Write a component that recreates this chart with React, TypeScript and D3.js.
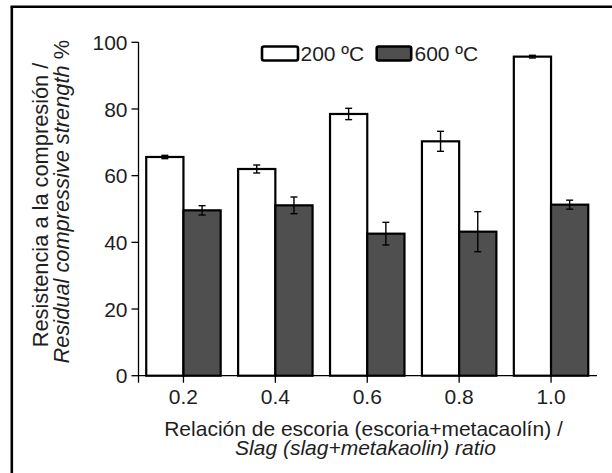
import React from "react";
import * as d3 from "d3";

const categories = ["0.2", "0.4", "0.6", "0.8", "1.0"];
const series = ["200 ºC", "600 ºC"];
const values200 = [65.6, 62.0, 78.5, 70.3, 95.7];
const errors200 = [0.5, 1.2, 1.7, 3.0, 0.4];
const values600 = [49.6, 51.1, 42.6, 43.2, 51.3];
const errors600 = [1.4, 2.5, 3.4, 6.0, 1.35];
const yTicks = [0, 20, 40, 60, 80, 100];

const W = 612;
const H = 473;
const FONT = "'Liberation Sans', Arial, Helvetica, sans-serif";
const FS = 21;
const TXT = "#1e1e1e";
const DARK = "#4f4f4f";

export default function App() {
  const x0 = 138.5;
  const x1 = 597;
  const yBottom = 375.7;
  const yTop = 42.3;

  const x = d3.scaleBand<string>().domain(categories).range([137.5, x1]).paddingInner(0.19).paddingOuter(0.095);
  const xs = d3.scaleBand<string>().domain(series).range([0, x.bandwidth()]);
  const y = d3.scaleLinear().domain([0, 100]).range([yBottom, yTop]);

  const data = categories.map((c, i) => ({
    c,
    bars: [
      { s: series[0], v: values200[i], e: errors200[i], fill: "#ffffff" },
      { s: series[1], v: values600[i], e: errors600[i], fill: DARK },
    ],
  }));

  const tickLen = 7;
  const cap = 3.5;

  return (
    <svg width={W} height={H} style={{ position: "absolute", left: 0, top: 0, background: "#fff" }} fontFamily={FONT}>
      <rect x={0} y={0} width={W} height={H} fill="#fff" />
      {/* frame */}
      <line x1={11.8} y1={6.8} x2={11.8} y2={H} stroke="#000" strokeWidth={2.6} />
      <line x1={10.5} y1={6.8} x2={W} y2={6.8} stroke="#000" strokeWidth={2.6} />

      {/* bars */}
      {data.map((d) => (
        <g key={d.c} transform={`translate(${x(d.c)},0)`}>
          {d.bars.map((b) => {
            const bx = xs(b.s)!;
            const bw = xs.bandwidth();
            const cx = bx + bw / 2;
            return (
              <g key={b.s}>
                <rect x={bx} y={y(b.v)} width={bw} height={yBottom - y(b.v)} fill={b.fill} stroke="#000" strokeWidth={2.2} />
                <line x1={cx} x2={cx} y1={y(b.v + b.e)} y2={y(b.v - b.e)} stroke="#000" strokeWidth={1.4} />
                <line x1={cx - cap} x2={cx + cap} y1={y(b.v + b.e)} y2={y(b.v + b.e)} stroke="#000" strokeWidth={1.4} />
                <line x1={cx - cap} x2={cx + cap} y1={y(b.v - b.e)} y2={y(b.v - b.e)} stroke="#000" strokeWidth={1.4} />
              </g>
            );
          })}
        </g>
      ))}

      {/* y axis */}
      <line x1={x0} x2={x0} y1={y(100)} y2={yBottom + tickLen} stroke="#000" strokeWidth={1.3} />
      {yTicks.map((t) => (
        <g key={t}>
          <line x1={x0 - tickLen} x2={x0} y1={y(t)} y2={y(t)} stroke="#000" strokeWidth={1.3} />
          <text x={x0 - 11} y={y(t)} dy="0.36em" textAnchor="end" fontSize={FS} fill={TXT}>
            {t}
          </text>
        </g>
      ))}

      {/* x axis */}
      <line x1={x0} x2={x1} y1={yBottom} y2={yBottom} stroke="#000" strokeWidth={1.3} />
      {categories.map((c) => {
        const cx = x(c)! + x.bandwidth() / 2;
        return (
          <g key={c}>
            <line x1={cx} x2={cx} y1={yBottom} y2={yBottom + tickLen} stroke="#000" strokeWidth={1.3} />
            <text x={cx} y={404} textAnchor="middle" fontSize={FS} fill={TXT}>
              {c}
            </text>
          </g>
        );
      })}

      {/* x title */}
      <text x={363.5} y={435.5} textAnchor="middle" fontSize={FS} fill={TXT}>
        Relación de escoria (escoria+metacaolín) /
      </text>
      <text x={365.5} y={455} textAnchor="middle" fontSize={FS} fontStyle="italic" fill={TXT}>
        Slag (slag+metakaolin) ratio
      </text>

      {/* y title */}
      <text transform="translate(48,205) rotate(-90)" textAnchor="middle" fontSize={21.8} fill={TXT}>
        Resistencia a la compresión /
      </text>
      <text transform="translate(68.5,201.7) rotate(-90)" textAnchor="middle" fontSize={21.8} fill={TXT}>
        <tspan fontStyle="italic">Residual compressive strength</tspan>
        <tspan> %</tspan>
      </text>

      {/* legend */}
      <rect x={262} y={46.5} width={36} height={14} rx={2} fill="#fff" stroke="#000" strokeWidth={2.6} />
      <text x={300.5} y={60.7} fontSize={FS} fill={TXT}>
        {series[0]}
      </text>
      <rect x={376.7} y={46.5} width={34.5} height={14} rx={2} fill={DARK} stroke="#000" strokeWidth={2.6} />
      <text x={414.5} y={60.7} fontSize={FS} fill={TXT}>
        {series[1]}
      </text>
    </svg>
  );
}
